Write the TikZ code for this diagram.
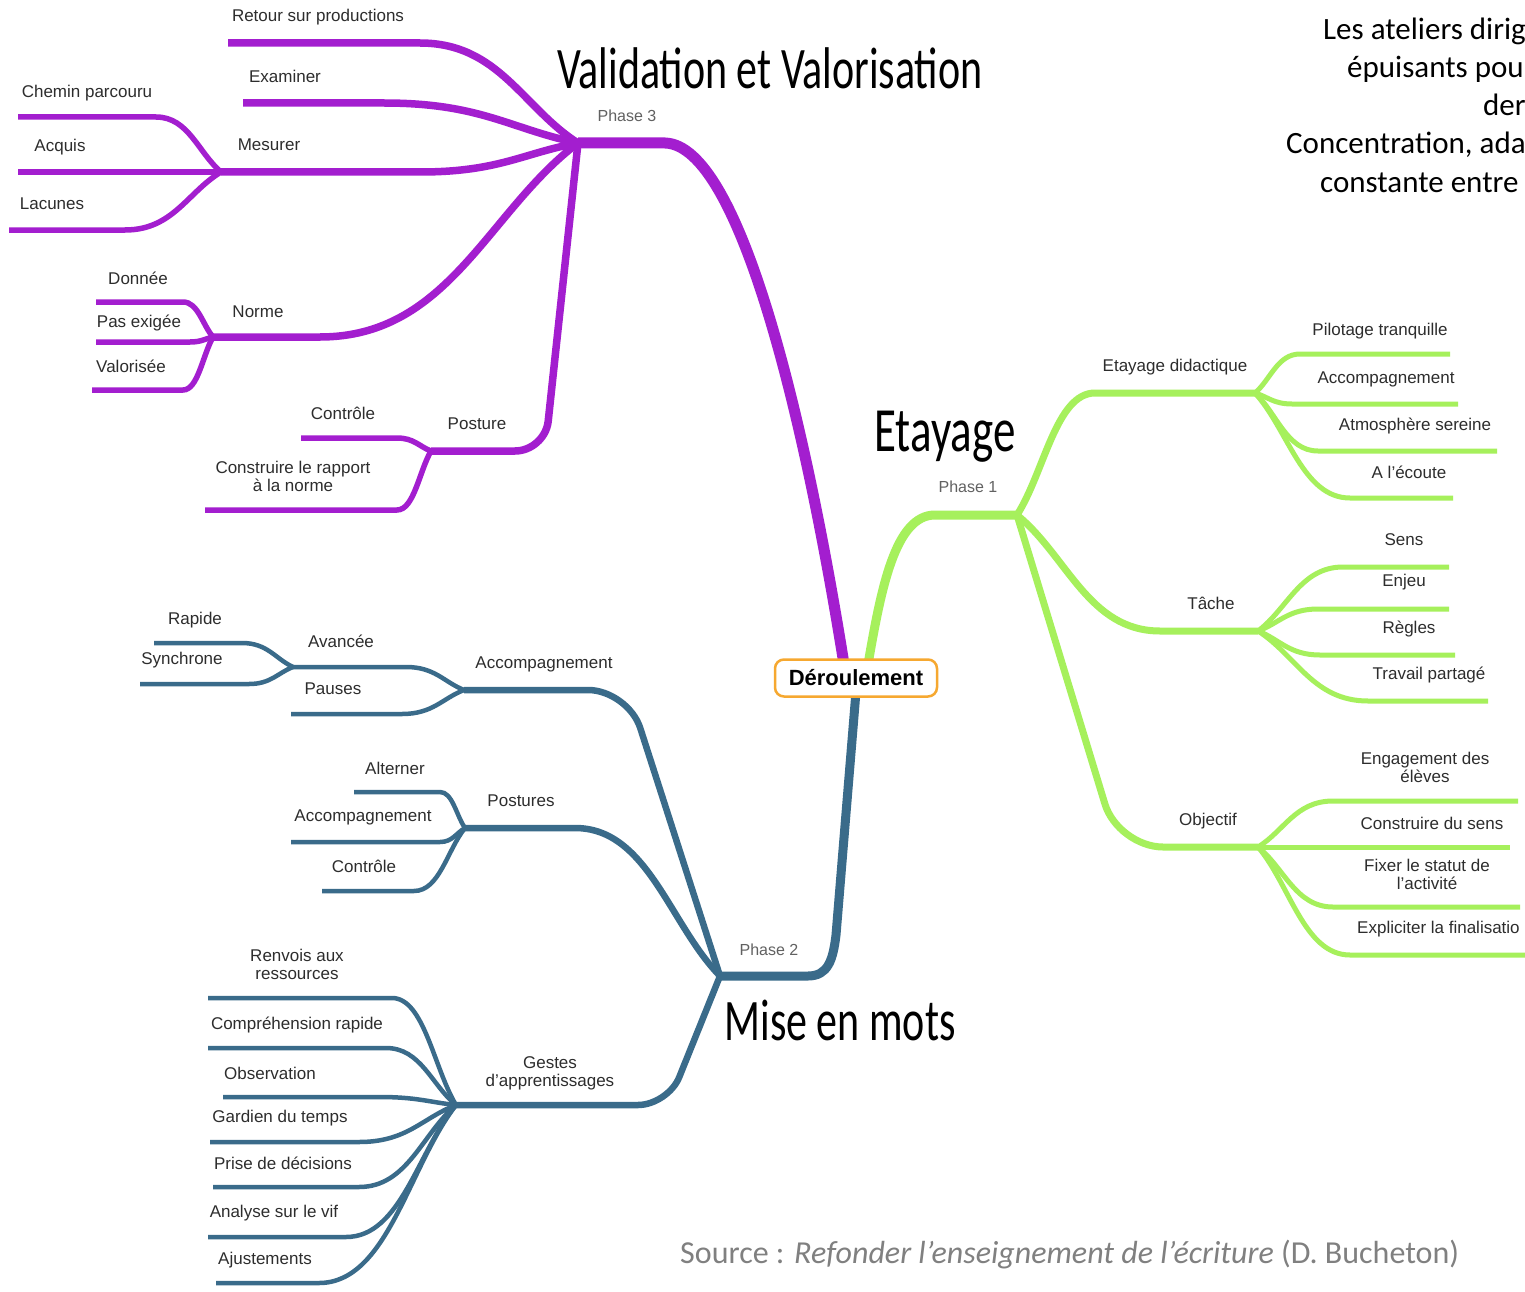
\documentclass[tikz,border=0pt]{standalone}
\usepackage{fontspec}
\setmainfont{Liberation Sans}
\newfontfamily\calib{Carlito}
\usetikzlibrary{calc}
\pgfdeclarelayer{bg}
\pgfsetlayers{bg,main}
\definecolor{mmpurple}{RGB}{163,30,207}
\definecolor{mmgreen}{RGB}{166,240,92}
\definecolor{mmblue}{RGB}{58,107,138}
\definecolor{mmorange}{RGB}{246,168,48}
\definecolor{lbltext}{RGB}{45,45,45}
\definecolor{srcgray}{RGB}{128,128,128}
\tikzset{
  mmcurve/.style={to path={.. controls ($(\tikztostart)!0.35!(\tikztotarget)$) and ($(\tikztotarget)!0.5!(\tikztostart |- \tikztotarget)$) .. (\tikztotarget)}},
  lbl/.style={font=\fontsize{17}{18}\selectfont, text=lbltext, align=center, inner sep=0pt},
  phl/.style={font=\fontsize{16}{18}\selectfont, text=black!62, inner sep=0pt},
  hand/.style={font=\calib\fontsize{42}{44}\selectfont, inner sep=0pt},
  trtext/.style={font=\calib\fontsize{31}{33}\selectfont, inner sep=0pt, anchor=base west},
  dernode/.style={draw=mmorange, line width=2.5pt, rounded corners=9pt, fill=white, minimum width=162pt, minimum height=37pt, inner sep=2pt, font=\bfseries\fontsize{22}{24}\selectfont},
  p0/.style={draw=mmpurple, line width=11pt},
  p1/.style={draw=mmpurple, line width=7.5pt},
  p2/.style={draw=mmpurple, line width=5.5pt},
  g0/.style={draw=mmgreen, line width=9pt},
  g1/.style={draw=mmgreen, line width=7pt},
  g2/.style={draw=mmgreen, line width=5pt},
  b0/.style={draw=mmblue, line width=9pt},
  b1/.style={draw=mmblue, line width=6.5pt},
  b2/.style={draw=mmblue, line width=4.5pt},
}
% #1 style, #2 hub, #3 name, #4 bend, #5 end, #6 label position, #7 text
\newcommand\mmleaf[7]{%
  \coordinate (#3b) at (#4);
  \coordinate (#3e) at (#5);
  \begin{pgfonlayer}{bg}\draw[#1] (#2) to[mmcurve] (#3b) -- (#3e);\end{pgfonlayer}
  \node[lbl] (#3) at (#6) {#7};}
\begin{document}
\begin{tikzpicture}[x=1pt,y=-1pt]
\useasboundingbox (0,0) rectangle (1525,1292);
\begin{pgfonlayer}{bg}\fill[white] (0,0) rectangle (1525,1292);\end{pgfonlayer}

% central node
\node[dernode] (der) at (856,678) {Déroulement};

% hubs
\coordinate (h3) at (578,143);
\coordinate (h1) at (1017,515);
\coordinate (h2) at (720,976);
\node[phl] (ph3) at (627,116) {Phase 3};
\node[phl] (ph1) at (968,487) {Phase 1};
\node[phl] (ph2) at (769,950) {Phase 2};

% trunks
\coordinate (dP) at ([xshift=-12pt,yshift=-6pt]der.north);
\coordinate (dG) at ([xshift=12pt,yshift=-6pt]der.north);
\coordinate (dB) at ([yshift=6pt]der.south);
\coordinate (t3a) at (665,143);
\coordinate (g1c) at (935,515);
\coordinate (b2a) at (836,935);
\coordinate (b2b) at (808,976);
\begin{pgfonlayer}{bg}
\draw[p0] (h3) -- (t3a) .. controls (740,145) and (805,420) .. (dP);
\draw[g0] (dG) .. controls +(13,-75) and +(-40,0) .. (g1c) -- (h1);
\draw[b0] (dB) -- (b2a) .. controls +(-3,25) and +(20,0) .. (b2b) -- (h2);
\end{pgfonlayer}

% ---------------- Phase 3 (purple) ----------------
\mmleaf{p1}{h3}{pRet}{420,43}{228,43}{318,17}{Retour sur productions}
\mmleaf{p1}{h3}{pExa}{384,103}{243,103}{285,76}{Examiner}
\coordinate (mesB) at (420,172);
\coordinate (hMes) at (221,172);
\coordinate (norB) at (320,337);
\coordinate (hNor) at (213,337);
\coordinate (posC) at (545,451);
\coordinate (hPos) at (431,451);
\begin{pgfonlayer}{bg}
\draw[p1] (h3) to[mmcurve] (mesB) -- (hMes);
\draw[p1] (h3) to[mmcurve] (norB) -- (hNor);
\draw[p1, rounded corners=30pt] (h3) -- (posC) -- (hPos);
\end{pgfonlayer}
\node[lbl] (lMes) at (269,145) {Mesurer};
\node[lbl] (lNor) at (258,312) {Norme};
\node[lbl] (lPos) at (477,424) {Posture};
\mmleaf{p2}{hMes}{pChe}{156,117}{18,117}{87,93}{Chemin parcouru}
\mmleaf{p2}{hMes}{pAcq}{150,172}{18,172}{60,147}{Acquis}
\mmleaf{p2}{hMes}{pLac}{125,230}{9,230}{52,204}{Lacunes}
\mmleaf{p2}{hNor}{pDon}{183,302}{96,302}{138,278}{Donnée}
\mmleaf{p2}{hNor}{pPas}{190,342}{96,342}{139,323}{Pas exigée}
\mmleaf{p2}{hNor}{pVal}{183,390}{92,390}{131,366}{Valorisée}
\mmleaf{p2}{hPos}{pCon}{397,438}{301,438}{343,413}{Contrôle}
\mmleaf{p2}{hPos}{pCst}{397,510}{205,510}{293,476}{Construire le rapport\\à la norme}

% ---------------- Phase 1 (green) ----------------
\coordinate (edB) at (1095,393);
\coordinate (hEd) at (1255,393);
\coordinate (taB) at (1160,631);
\coordinate (hTa) at (1258,631);
\coordinate (obC) at (1118,847);
\coordinate (hOb) at (1258,847);
\begin{pgfonlayer}{bg}
\draw[g1] (h1) to[mmcurve] (edB) -- (hEd);
\draw[g1] (h1) to[mmcurve] (taB) -- (hTa);
\draw[g1, rounded corners=45pt] (h1) -- (obC) -- (hOb);
\end{pgfonlayer}
\node[lbl] (lEd) at (1175,367) {Etayage didactique};
\node[lbl] (lTa) at (1211,603) {Tâche};
\node[lbl] (lOb) at (1208,821) {Objectif};
\mmleaf{g2}{hEd}{gPil}{1300,354}{1450,354}{1380,331}{Pilotage tranquille}
\mmleaf{g2}{hEd}{gAcc}{1292,404}{1458,404}{1386,379}{Accompagnement}
\mmleaf{g2}{hEd}{gAtm}{1318,451}{1497,451}{1415,426}{Atmosphère sereine}
\mmleaf{g2}{hEd}{gEco}{1350,498}{1453,498}{1409,472}{A l'écoute}
\mmleaf{g2}{hTa}{gSen}{1343,567}{1449,567}{1404,540}{Sens}
\mmleaf{g2}{hTa}{gEnj}{1318,609}{1449,609}{1404,582}{Enjeu}
\mmleaf{g2}{hTa}{gReg}{1320,655}{1455,655}{1409,629}{Règles}
\mmleaf{g2}{hTa}{gTra}{1368,701}{1488,701}{1429,675}{Travail partagé}
\mmleaf{g2}{hOb}{gEng}{1333,801}{1518,801}{1425,767}{Engagement des\\élèves}
\mmleaf{g2}{hOb}{gCon}{1300,847}{1510,847}{1432,823}{Construire du sens}
\mmleaf{g2}{hOb}{gFix}{1333,907}{1520,907}{1427,874}{Fixer le statut de\\l'activité}
\coordinate (gExpb) at (1350,955);
\coordinate (gExpe) at (1540,955);
\begin{pgfonlayer}{bg}\draw[g2] (hOb) to[mmcurve] (gExpb) -- (gExpe);\end{pgfonlayer}
\node[lbl, anchor=west] (gExp) at (1357,929) {Expliciter la finalisatio};

% ---------------- Phase 2 (blue) ----------------
\coordinate (acC) at (628,690);
\coordinate (hAc) at (464,690);
\coordinate (psB) at (575,828);
\coordinate (hPs) at (465,828);
\coordinate (geC) at (668,1105);
\coordinate (hGe) at (456,1105);
\coordinate (avB) at (406,667);
\coordinate (hAv) at (293,667);
\begin{pgfonlayer}{bg}
\draw[b1, rounded corners=40pt] (h2) -- (acC) -- (hAc);
\draw[b1] (h2) to[mmcurve] (psB) -- (hPs);
\draw[b1, rounded corners=30pt] (h2) -- (geC) -- (hGe);
\draw[b2] (hAc) to[mmcurve] (avB) -- (hAv);
\end{pgfonlayer}
\node[lbl] (lAc) at (544,664) {Accompagnement};
\node[lbl] (lAv) at (341,641) {Avancée};
\node[lbl] (lPs) at (521,801) {Postures};
\node[lbl] (lGe) at (550,1073) {Gestes\\d'apprentissages};
\mmleaf{b2}{hAv}{bRap}{242,643}{154,643}{195,620}{Rapide}
\mmleaf{b2}{hAv}{bSyn}{249,684}{140,684}{182,660}{Synchrone}
\mmleaf{b2}{hAc}{bPau}{402,714}{291,714}{333,689}{Pauses}
\mmleaf{b2}{hPs}{bAlt}{440,792}{354,792}{395,768}{Alterner}
\mmleaf{b2}{hPs}{bAcc}{440,842}{291,842}{363,817}{Accompagnement}
\mmleaf{b2}{hPs}{bCon}{414,891}{322,891}{364,866}{Contrôle}
\mmleaf{b2}{hGe}{bRen}{392,998}{208,998}{297,964}{Renvois aux\\ressources}
\mmleaf{b2}{hGe}{bCom}{386,1048}{208,1048}{297,1025}{Compréhension rapide}
\mmleaf{b2}{hGe}{bObs}{379,1097}{223,1097}{270,1073}{Observation}
\mmleaf{b2}{hGe}{bGar}{359,1142}{210,1142}{280,1118}{Gardien du temps}
\mmleaf{b2}{hGe}{bPri}{359,1187}{213,1187}{283,1163}{Prise de décisions}
\mmleaf{b2}{hGe}{bAna}{346,1237}{208,1237}{274,1213}{Analyse sur le vif}
\mmleaf{b2}{hGe}{bAju}{319,1283}{216,1283}{265,1260}{Ajustements}

% ---------------- titles ----------------
\node[hand] (tVal) at (770,68) {\scalebox{1}[1.4]{Validation et Valorisation}};
\node[hand, font=\calib\fontsize{45}{46}\selectfont] (tEta) at (945,437) {\scalebox{1}[1.4]{Etayage}};
\node[hand] (tMis) at (840,1020) {\scalebox{1}[1.4]{Mise en mots}};

% ---------------- top right text (cut by the edge) ----------------
\node[trtext] (r1) at (1323,40) {Les ateliers dirig};
\node[trtext] (r2) at (1347,78) {épuisants pou};
\node[trtext] (r3) at (1483,116) {der};
\node[trtext] (r4) at (1286,154) {Concentration, ada};
\node[trtext] (r5) at (1320,193) {constante entre};

% ---------------- source ----------------
\node[font=\calib\fontsize{32}{34}\selectfont, text=srcgray, inner sep=0pt, anchor=base west] (src) at (680,1263) {Source : \textit{Refonder l’enseignement de l’écriture} (D. Bucheton)};
\end{tikzpicture}
\end{document}
